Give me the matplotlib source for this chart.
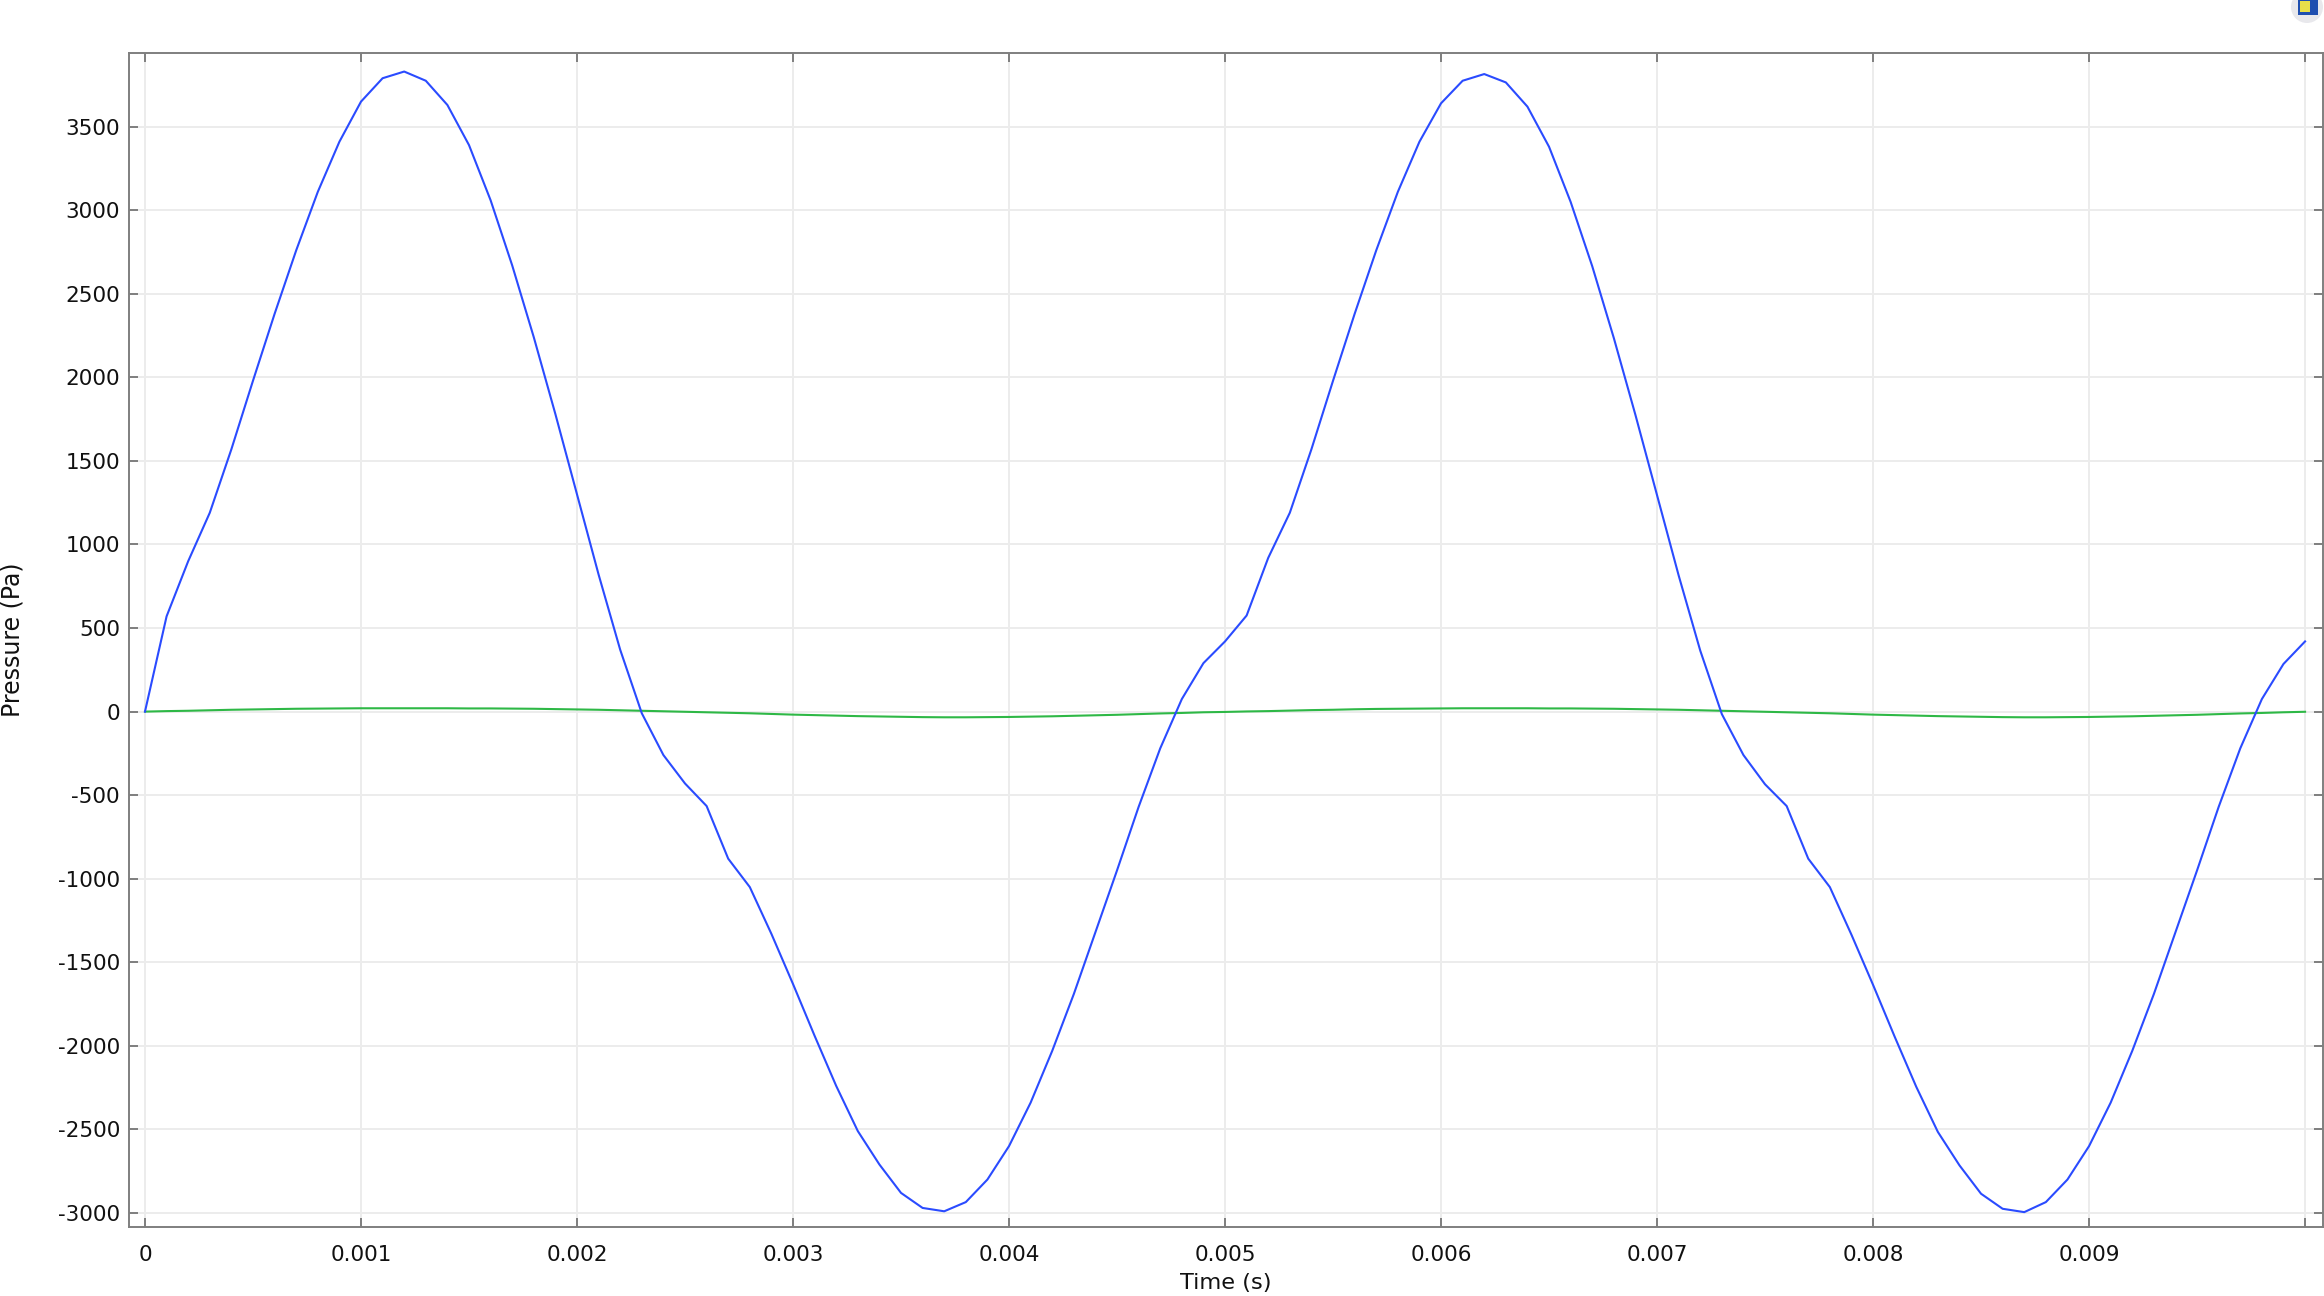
import matplotlib
matplotlib.use('Agg')
import matplotlib.pyplot as plt
from matplotlib.patches import Ellipse, Rectangle

# %%
W, H = 2324, 1296

time_s = [i / 10000 for i in range(101)]

pressure_blue = [
    0, 570, 900, 1190, 1570, 1980, 2380, 2760, 3110, 3410,
    3650, 3790, 3830, 3775, 3630, 3390, 3060, 2670, 2240, 1780,
    1300, 820, 370, -10, -260, -430, -565, -880, -1050, -1330,
    -1630, -1940, -2240, -2510, -2710, -2880, -2970, -2990, -2935, -2800,
    -2600, -2340, -2030, -1690, -1320, -950, -570, -220, 75, 290,
    420, 575, 920, 1190, 1570, 1980, 2380, 2760, 3110, 3410,
    3640, 3775, 3815, 3765, 3620, 3380, 3050, 2665, 2235, 1775,
    1295, 815, 365, -15, -260, -435, -565, -880, -1050, -1335,
    -1635, -1945, -2245, -2515, -2715, -2885, -2975, -2995, -2935, -2800,
    -2600, -2340, -2030, -1690, -1320, -950, -570, -220, 75, 285,
    420,
]
pressure_green = [
    0, 3, 5, 8, 11, 13, 15, 17, 18, 19,
    20, 20, 20, 20, 20, 19, 19, 18, 17, 15,
    13, 11, 8, 5, 2, -1, -4, -7, -10, -14,
    -18, -21, -24, -27, -29, -31, -33, -34, -34, -33,
    -32, -30, -28, -25, -22, -19, -15, -11, -8, -4,
    -2, 1, 3, 6, 9, 11, 14, 16, 17, 18,
    19, 20, 20, 20, 20, 19, 19, 18, 17, 15,
    13, 11, 8, 5, 2, -1, -4, -7, -10, -14,
    -18, -21, -24, -27, -29, -31, -33, -34, -34, -33,
    -32, -30, -28, -25, -22, -19, -15, -11, -8, -4,
    -1,
]

x_ticks = [i / 1000 for i in range(11)]
x_labels = ['0', '0.001', '0.002', '0.003', '0.004', '0.005',
            '0.006', '0.007', '0.008', '0.009', '']
y_ticks = list(range(-3000, 3501, 500))

# %%
plt.rcParams['axes.unicode_minus'] = False

fig = plt.figure(figsize=(W / 100, H / 100), dpi=100, facecolor='white')
left, right, top, bottom = 129, 2323, 53, 1227
ax = fig.add_axes([left / W, 1 - bottom / H, (right - left) / W, (bottom - top) / H])

ax.plot(time_s, pressure_green, color='#2eb846', lw=1.5, zorder=3)
ax.plot(time_s, pressure_blue, color='#2a4bff', lw=1.5, zorder=4)

ax.set_xlim(-0.000074, 0.010083)
ax.set_ylim(-3084, 3941)
ax.set_xticks(x_ticks)
ax.set_xticklabels(x_labels)
ax.set_yticks(y_ticks)
ax.grid(True, color='#ececec', lw=1.4)
ax.set_axisbelow(True)
ax.tick_params(axis='both', direction='in', length=6.5, width=1.4, color='#7f7f7f',
               top=True, right=True, labelsize=15.5, labelcolor='#111111')
ax.tick_params(axis='x', pad=13)
ax.tick_params(axis='y', pad=6.5)
for spine in ax.spines.values():
    spine.set_color('#7f7f7f')
    spine.set_linewidth(1.4)

fig.text(1226 / W, 1 - 1283 / H, 'Time (s)', fontsize=16.2, color='#111111',
         ha='center', va='center')
fig.text(13 / W, 1 - 640 / H, 'Pressure (Pa)', fontsize=17, color='#111111',
         rotation=90, ha='center', va='center')


# small toolbar icon, top right corner
def to_fig(x, y):
    return x / W, 1 - y / H


fig.add_artist(Ellipse(to_fig(2307, 7), 32 / W, 32 / H, transform=fig.transFigure,
                       color='#e8e8ec', lw=0))
fig.add_artist(Rectangle(to_fig(2298, 15), 20 / W, 17 / H, transform=fig.transFigure,
                         color='#1f4fb0', lw=0))
fig.add_artist(Rectangle(to_fig(2300, 12), 10 / W, 11 / H, transform=fig.transFigure,
                         color='#e8df4a', lw=0))

plt.savefig('out.png', dpi=100)
